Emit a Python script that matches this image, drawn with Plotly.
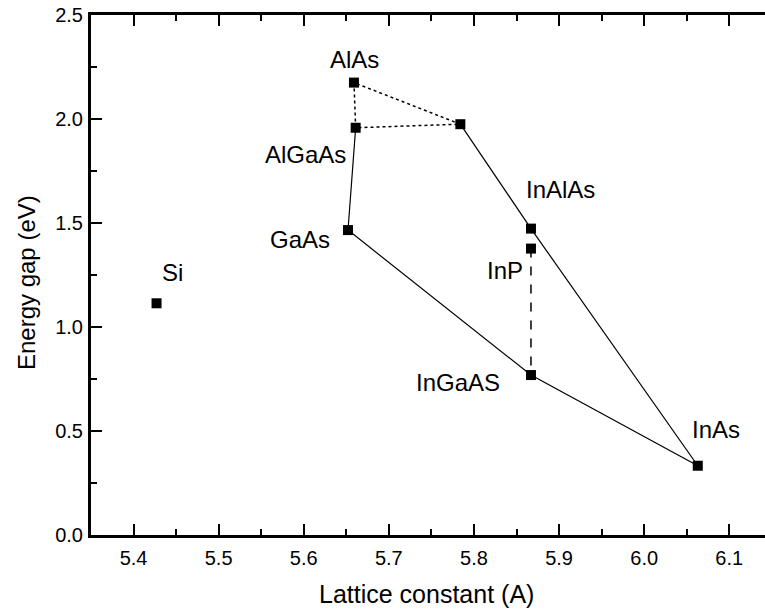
import plotly.graph_objects as go

# Data (lattice constant in A, energy gap in eV)
names = ["Si", "AlAs", "AlGaAs", "X", "GaAs", "InAlAs", "InP", "InGaAS", "InAs"]
lattice = [5.427, 5.659, 5.661, 5.784, 5.652, 5.867, 5.867, 5.867, 6.063]
gap = [1.114, 2.175, 1.958, 1.975, 1.466, 1.473, 1.377, 0.769, 0.333]

# solid connection path
solid_x = [5.661, 5.652, 5.867, 6.063, 5.867, 5.784]
solid_y = [1.958, 1.466, 0.769, 0.333, 1.473, 1.975]
# dotted triangle
dot_x = [5.659, 5.661, 5.784, 5.659]
dot_y = [2.175, 1.958, 1.975, 2.175]
# dashed InP-InGaAs
dash_x = [5.867, 5.867]
dash_y = [1.377, 0.769]

label_text = ["Si", "AlAs", "AlGaAs", "GaAs", "InAlAs", "InP", "InGaAS", "InAs"]
label_x = [5.446, 5.660, 5.602, 5.595, 5.902, 5.836, 5.781, 6.085]
label_y = [1.260, 2.284, 1.827, 1.422, 1.663, 1.274, 0.732, 0.508]

x_ticks = [5.4, 5.5, 5.6, 5.7, 5.8, 5.9, 6.0, 6.1]
y_ticks = [0, 0.5, 1.0, 1.5, 2.0, 2.5]

FONT = "Liberation Sans, Arial, sans-serif"

fig = go.Figure()
fig.add_trace(go.Scatter(x=solid_x, y=solid_y, mode="lines",
                         line=dict(color="black", width=1.2), showlegend=False))
fig.add_trace(go.Scatter(x=dot_x, y=dot_y, mode="lines",
                         line=dict(color="black", width=1.5, dash="dot"), showlegend=False))
fig.add_trace(go.Scatter(x=dash_x, y=dash_y, mode="lines",
                         line=dict(color="black", width=1.5, dash="dash"), showlegend=False))
fig.add_trace(go.Scatter(x=lattice, y=gap, mode="markers",
                         marker=dict(symbol="square", size=10, color="black"),
                         showlegend=False))

for t, x, y in zip(label_text, label_x, label_y):
    fig.add_annotation(x=x, y=y, text=t, showarrow=False,
                       font=dict(family=FONT, size=24, color="black"),
                       xanchor="center", yanchor="middle")

# axis titles
fig.add_annotation(xref="paper", yref="paper", x=0.4975, y=-0.1135,
                   text="Lattice constant (A)", showarrow=False,
                   font=dict(family=FONT, size=25, color="black"),
                   xanchor="center", yanchor="middle")
fig.add_annotation(xref="paper", yref="paper", x=-0.0964, y=0.4846,
                   text="Energy gap (eV)", showarrow=False, textangle=-90,
                   font=dict(family=FONT, size=24, color="black"),
                   xanchor="center", yanchor="middle")

fig.update_layout(
    width=765, height=614,
    margin=dict(l=91, r=0, t=15, b=79),
    paper_bgcolor="white", plot_bgcolor="white",
    font=dict(family=FONT, color="black"),
    xaxis=dict(range=[5.35, 6.142], tickvals=x_ticks,
               tickformat=".1f", ticks="inside", ticklen=11, tickwidth=2,
               tickcolor="black", showline=True, linecolor="black", linewidth=3,
               mirror="ticks", showgrid=False, zeroline=False,
               tickfont=dict(size=20, family=FONT), ticklabelstandoff=3,
               minor=dict(ticks="inside", ticklen=6, tickwidth=2, tickcolor="black", dtick=0.05, showgrid=False)),
    yaxis=dict(range=[0, 2.5], tickvals=y_ticks,
               tickformat=".1f", ticks="inside", ticklen=11, tickwidth=2,
               tickcolor="black", showline=True, linecolor="black", linewidth=3,
               showgrid=False, zeroline=False,
               tickfont=dict(size=20, family=FONT), ticklabelstandoff=1,
               minor=dict(ticks="inside", ticklen=6, tickwidth=2, tickcolor="black", dtick=0.25, showgrid=False)),
)

fig.write_html("out.html")
